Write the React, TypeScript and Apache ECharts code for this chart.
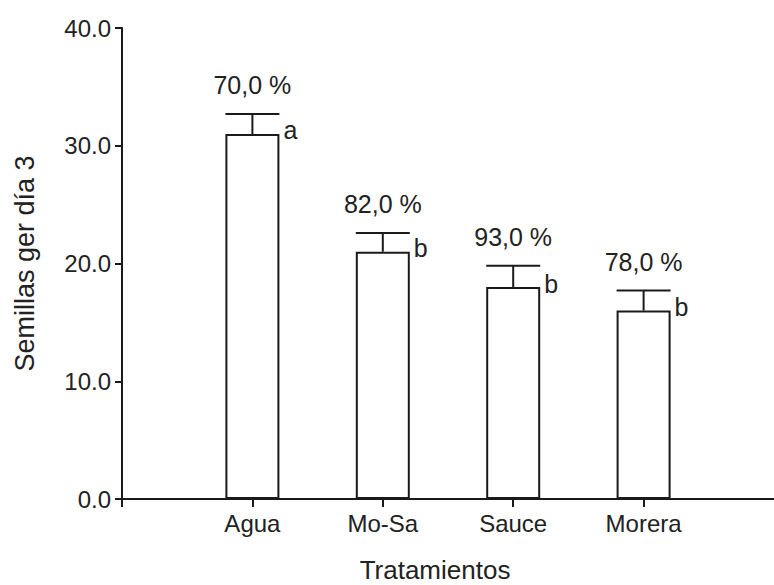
import React, { useEffect, useRef } from "react";
import * as echarts from "echarts";

const categories = ["Agua", "Mo-Sa", "Sauce", "Morera"];
const means = [31.0, 21.0, 18.0, 16.0];
const upperValues = [32.7, 22.6, 19.8, 17.7];
const pctLabels = ["70,0 %", "82,0 %", "93,0 %", "78,0 %"];
const letters = ["a", "b", "b", "b"];
const yMin = 0;
const yMax = 40;
const yInterval = 10;
const xTickPositions = [0, 1, 2, 3, 4];
const xTitle = "Tratamientos";
const yTitle = "Semillas ger día 3";

const FONT = "'Liberation Sans', Arial, Helvetica, sans-serif";
const INK = "#1a1a1a";
const TXT = "#222222";

export default function App() {
  const ref = useRef<HTMLDivElement>(null);
  useEffect(() => {
    if (!ref.current) return;
    const chart = echarts.init(ref.current, null, { renderer: "svg" });
    const option: any = {
      animation: false,
      backgroundColor: "#ffffff",
      grid: { left: 122, right: 0, top: 28, bottom: 86 },
      xAxis: {
        type: "value",
        min: 0,
        max: categories.length + 1,
        interval: 1,
        splitLine: { show: false },
        axisLine: { show: true, onZero: false, lineStyle: { color: INK, width: 2 } },
        axisTick: {
          show: true,
          length: 8,
          customValues: xTickPositions,
          lineStyle: { color: INK, width: 2 },
        },
        axisLabel: {
          margin: 12,
          fontSize: 24,
          fontFamily: FONT,
          color: TXT,
          customValues: categories.map((_, i) => i + 1),
          formatter: (v: number) => categories[v - 1] ?? "",
        },
      },
      yAxis: {
        type: "value",
        min: yMin,
        max: yMax,
        interval: yInterval,
        name: yTitle,
        nameLocation: "middle",
        nameGap: 84,
        nameTextStyle: { fontSize: 27, fontFamily: FONT, color: TXT },
        splitLine: { show: false },
        axisLine: { show: true, lineStyle: { color: INK, width: 2 } },
        axisTick: { show: true, length: 7, lineStyle: { color: INK, width: 2 } },
        axisLabel: {
          margin: 11,
          fontSize: 24,
          fontFamily: FONT,
          color: TXT,
          formatter: (v: number) => v.toFixed(1),
        },
      },
      graphic: [
        {
          type: "text",
          x: 435,
          y: 570,
          style: {
            text: xTitle,
            fontSize: 26,
            fontFamily: FONT,
            fill: TXT,
            align: "center",
            verticalAlign: "middle",
          },
        },
      ],
      series: [
        {
          type: "bar",
          data: means.map((v, i) => [i + 1, v]),
          barWidth: 54,
          itemStyle: { color: "#ffffff", borderColor: INK, borderWidth: 2 },
          z: 2,
        },
        {
          type: "custom",
          data: upperValues.map((v, i) => [i + 1, v]),
          z: 3,
          clip: false,
          renderItem: (params: any, api: any) => {
            const i = params.dataIndex;
            const x = api.value(0);
            const top = api.coord([x, upperValues[i]]);
            const base = api.coord([x, means[i]]);
            const half = 27;
            const ls = { stroke: INK, lineWidth: 2 };
            return {
              type: "group",
              children: [
                { type: "line", shape: { x1: top[0], y1: base[1], x2: top[0], y2: top[1] }, style: ls },
                { type: "line", shape: { x1: top[0] - half, y1: top[1], x2: top[0] + half, y2: top[1] }, style: ls },
                {
                  type: "text",
                  style: {
                    text: pctLabels[i],
                    x: top[0],
                    y: top[1] - 29,
                    align: "center",
                    verticalAlign: "middle",
                    fontSize: 25,
                    fontFamily: FONT,
                    fill: TXT,
                  },
                },
                {
                  type: "text",
                  style: {
                    text: letters[i],
                    x: base[0] + 31,
                    y: base[1] + 9,
                    align: "left",
                    verticalAlign: "bottom",
                    fontSize: 25,
                    fontFamily: FONT,
                    fill: TXT,
                  },
                },
              ],
            };
          },
        },
      ],
    };
    chart.setOption(option);
    return () => chart.dispose();
  }, []);
  return (
    <div
      ref={ref}
      style={{ position: "absolute", left: 0, top: 0, width: 774, height: 585, background: "#fff" }}
    />
  );
}
